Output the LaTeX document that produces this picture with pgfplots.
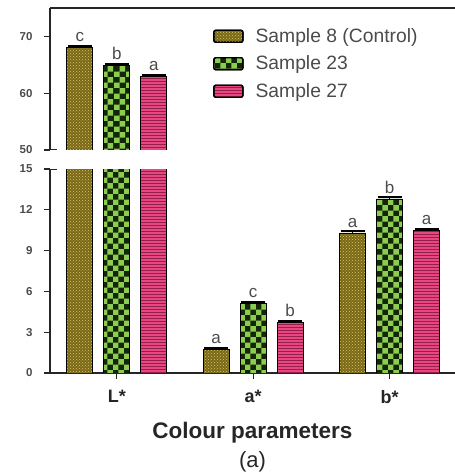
\documentclass[border=0pt]{standalone}
\usepackage{pgfplots}
\pgfplotsset{compat=1.18}
\usepackage{fontspec}
\setmainfont{Liberation Sans}
\usetikzlibrary{patterns}

\definecolor{olivebar}{RGB}{120,104,26}
\definecolor{olivedot}{RGB}{220,200,95}
\definecolor{greenbar}{RGB}{20,38,10}
\definecolor{greencheck}{RGB}{140,205,80}
\definecolor{pinkbar}{RGB}{232,72,130}
\definecolor{pinkline}{RGB}{150,30,75}
\definecolor{txtgray}{RGB}{75,75,75}

\pgfplotsset{
  sEight/.style={fill=olivebar, draw=black, line width=0.8pt,
    postaction={pattern=crosshatch dots, pattern color=olivedot}},
  sTwentyThree/.style={fill=greenbar, draw=black, line width=0.8pt,
    postaction={pattern=checkerboard, pattern color=greencheck}},
  sTwentySeven/.style={fill=pinkbar, draw=black, line width=0.8pt,
    postaction={pattern=horizontal lines, pattern color=pinkline}},
  common/.style={
    scale only axis, width=405pt,
    xmin=-0.49, xmax=2.48,
    ybar, bar width=26pt,
    axis line style={-, line width=1.3pt, black!85},
    tick align=outside, major tick length=6pt,
    tick style={line width=1.1pt, black!85},
    yticklabel style={font=\fontsize{11.5}{13}\selectfont\bfseries, text=txtgray, xshift=-8pt},
    /pgf/number format/assume math mode=true,
    nodes near coords, point meta=explicit symbolic,
    every node near coord/.append style={font=\fontsize{17}{19}\selectfont, text=txtgray, anchor=south, yshift=2pt},
    error bars/y dir=plus, error bars/y explicit,
    error bars/error mark options={rotate=90, line width=2pt, mark size=12pt, black},
    error bars/error bar style={line width=1.2pt, black},
  },
}

\begin{document}
\begin{tikzpicture}
\useasboundingbox (0,0) rectangle (455pt,472pt);

% upper part of the broken axis
\begin{axis}[common,
  at={(50pt,322pt)}, anchor=south west, height=142pt,
  ymin=50, ymax=75.1,
  ytick={50,60,70},
  axis y line*=left, axis x line=none,
  legend style={draw=none, fill=none, at={(0.395,0.885)}, anchor=north west,
    font=\fontsize{19.3}{21}\selectfont, text=txtgray, row sep=8pt,
    /tikz/every odd column/.append style={column sep=10pt}},
  legend cell align=left,
  legend image code/.code={\draw[#1, line width=1.4pt, rounded corners=2pt] (0pt,-6pt) rectangle (29pt,6pt);},
]
\addplot[sEight, bar shift=-37pt] coordinates {(0,68.2) +- (0,0.25) [c]};
\addplot[sTwentyThree, bar shift=0pt] coordinates {(0,65.0) +- (0,0.25) [b]};
\addplot[sTwentySeven, bar shift=37pt] coordinates {(0,63.0) +- (0,0.25) [a]};
\legend{Sample 8 (Control), Sample 23, Sample 27}
\draw[line width=1.3pt, black!85] (rel axis cs:0,1) -- (rel axis cs:1,1);
\draw[line width=1.3pt, black!85] ([xshift=-8pt]rel axis cs:0,0) -- ([xshift=7pt]rel axis cs:0,0);
\end{axis}

% lower part of the broken axis
\begin{axis}[common,
  at={(50pt,99pt)}, anchor=south west, height=204pt,
  ymin=0, ymax=15,
  ytick={0,3,...,15},
  axis y line*=left, axis x line*=bottom,
  xtick={0,1,2}, xticklabels={L*, a*, b*},
  xticklabel style={font=\fontsize{18}{20}\selectfont\bfseries, text=black!85, yshift=-8pt},
]
\addplot[sEight, bar shift=-37pt] coordinates {(0,68.2) +- (0,0) [{}] (1,1.7) +- (0,0.12) [a] (2,10.3) +- (0,0.12) [a]};
\addplot[sTwentyThree, bar shift=0pt] coordinates {(0,65.0) +- (0,0) [{}] (1,5.1) +- (0,0.12) [c] (2,12.8) +- (0,0.12) [b]};
\addplot[sTwentySeven, bar shift=37pt] coordinates {(0,63.0) +- (0,0) [{}] (1,3.7) +- (0,0.12) [b] (2,10.5) +- (0,0.12) [a]};
\draw[line width=1.3pt, black!85] ([xshift=-8pt]rel axis cs:0,1) -- ([xshift=7pt]rel axis cs:0,1);
\end{axis}

% axis title below the lower part
\node[anchor=base, font=\fontsize{22.5}{24}\selectfont\bfseries, text=black!85] at (252.5pt,33pt) {Colour parameters};
\node[anchor=base, font=\fontsize{22}{24}\selectfont, text=black!85] at (252.5pt,5pt) {(a)};
\end{tikzpicture}
\end{document}
